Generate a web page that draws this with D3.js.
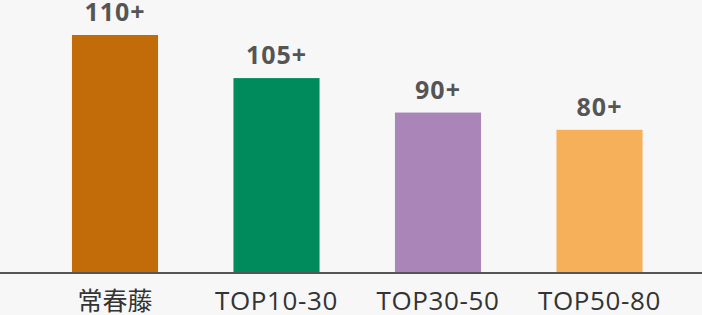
<!DOCTYPE html>
<html><head><meta charset="utf-8">
<script src="https://cdn.jsdelivr.net/npm/d3@7"></script>
<style>
html,body{margin:0;padding:0;background:#f7f7f7;}
svg{display:block;}
</style></head>
<body>
<svg id="c" width="702" height="315"></svg>
<script>
const categories = ["常春藤", "TOP10-30", "TOP30-50", "TOP50-80"];
const values = [110, 90, 74, 66];
const valueLabels = ["110+", "105+", "90+", "80+"];
const colors = ["#c26c09", "#008b5c", "#a985b8", "#f7b05a"];

const W = 702, H = 315;
const svg = d3.select("#c");
svg.append("rect").attr("width", W).attr("height", H).attr("fill", "#f7f7f7");

const baseY = 272;
const x = d3.scaleBand().domain(categories).range([34.25, 680.25]).paddingInner(0.467).paddingOuter(0.2335);
const y = d3.scaleLinear().domain([0, 110]).range([baseY, 35]);

const font = "'Open Sans', 'Noto Sans CJK SC', sans-serif";

svg.selectAll("rect.bar").data(categories).enter().append("rect")
  .attr("class", "bar")
  .attr("x", d => x(d))
  .attr("width", x.bandwidth())
  .attr("y", (d, i) => y(values[i]))
  .attr("height", (d, i) => baseY - y(values[i]))
  .attr("fill", (d, i) => colors[i]);

svg.selectAll("text.val").data(categories).enter().append("text")
  .attr("class", "val")
  .attr("x", d => x(d) + x.bandwidth() / 2)
  .attr("y", (d, i) => y(values[i]) - 14)
  .attr("text-anchor", "middle")
  .attr("font-family", font)
  .attr("font-weight", "bold")
  .attr("font-size", 25)
  .attr("letter-spacing", 1)
  .attr("fill", "#555555")
  .text((d, i) => valueLabels[i]);

const axis = d3.axisBottom(x).tickSize(0).tickPadding(0);
const g = svg.append("g").attr("transform", `translate(0,${baseY})`).call(axis);
g.select(".domain").remove();
g.selectAll(".tick text")
  .attr("y", 38)
  .attr("dy", 0)
  .attr("font-family", font)
  .attr("font-size", d => /[A-Z]/.test(d) ? 26 : 25)
  .attr("letter-spacing", d => /[A-Z]/.test(d) ? 0.6 : 0)
  .attr("fill", "#333333");

svg.append("line").attr("x1", 0).attr("x2", W).attr("y1", baseY + 1).attr("y2", baseY + 1)
  .attr("stroke", "#555555").attr("stroke-width", 2);
</script>
</body></html>
